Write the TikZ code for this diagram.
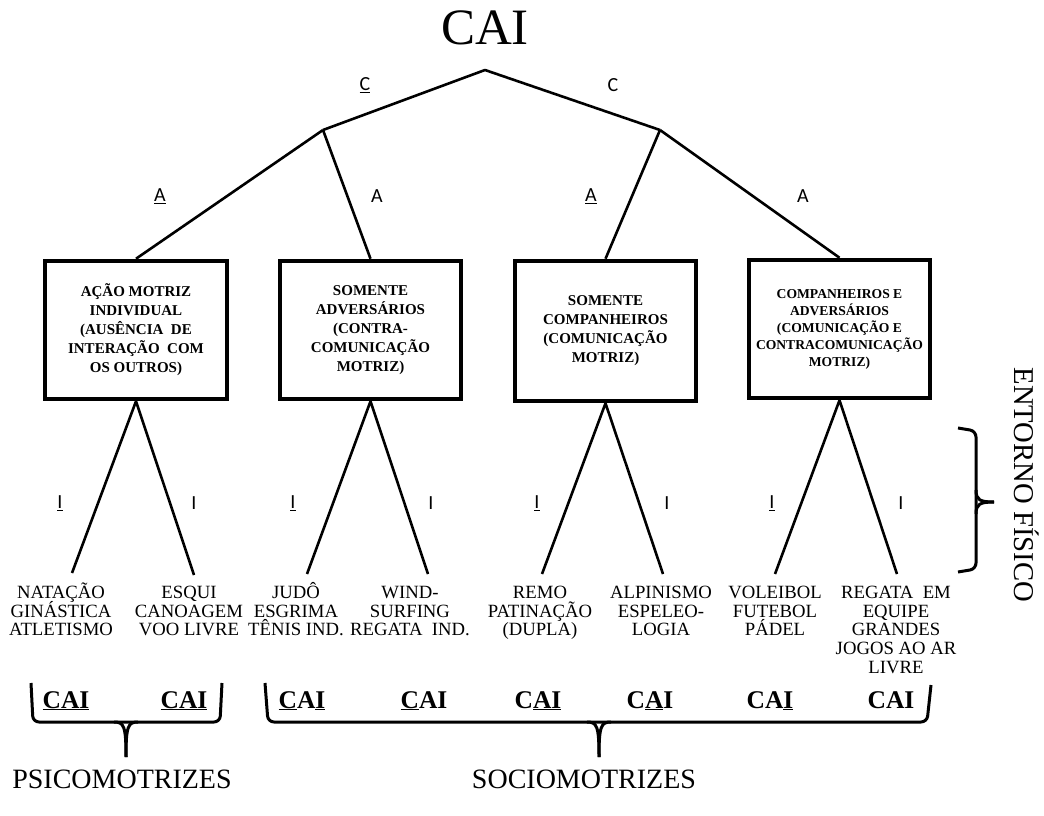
\documentclass[tikz,border=0pt]{standalone}
\usepackage{fontspec}
\setmainfont{Liberation Serif}
\newfontfamily\labfont{Carlito}
\newcommand{\fl}{\rule{0pt}{18pt}}
\newcommand{\tightls}{\lineskiplimit=-30pt\relax}
\begin{document}
\begin{tikzpicture}[x=1pt,y=-1pt,
  tree/.style={line width=2.6pt},
  boxnode/.style={draw, line width=4.5pt, align=center, inner sep=0pt,
     font=\bfseries\fontsize{15}{19}\selectfont\tightls},
  sport/.style={align=center, anchor=north, inner sep=0pt,
     font=\fontsize{18.7}{18.8}\selectfont\tightls},
  lab/.style={font=\labfont\fontsize{20}{24}\selectfont, inner sep=0pt},
  cai/.style={font=\bfseries\fontsize{25.5}{30}\selectfont, anchor=base, inner sep=0pt},
  brace/.style={line width=3pt, rounded corners=6pt},
  tipline/.style={line width=3pt},
  bigtext/.style={font=\fontsize{28}{32}\selectfont, inner sep=0pt}
]
\useasboundingbox (0,0) rectangle (1044,816);

% title
\node[font=\fontsize{51}{58}\selectfont, anchor=base, inner sep=0pt] (title) at (485,45) {CAI};

% tree junctions
\coordinate (apex) at (485,70);
\coordinate (L) at (323,130);
\coordinate (R) at (660,130);

% boxes
\node[boxnode, minimum width=182pt, minimum height=138pt] (b1) at (136,330)
  {AÇÃO MOTRIZ\\INDIVIDUAL\\(AUSÊNCIA\ \ DE\\INTERAÇÃO\ \ COM\\OS OUTROS)};
\node[boxnode, minimum width=181pt, minimum height=138pt] (b2) at (370.5,330)
  {SOMENTE\\ADVERSÁRIOS\\(CONTRA-\\COMUNICAÇÃO\\MOTRIZ)};
\node[boxnode, minimum width=181pt, minimum height=140pt] (b3) at (605.5,331)
  {SOMENTE\\COMPANHEIROS\\(COMUNICAÇÃO\\MOTRIZ)};
\node[boxnode, minimum width=181pt, minimum height=138pt,
      font=\bfseries\fontsize{13.6}{17}\selectfont\tightls] (b4) at (839.5,329)
  {COMPANHEIROS E\\ADVERSÁRIOS\\(COMUNICAÇÃO E\\CONTRACOMUNICAÇÃO\\MOTRIZ)};

% upper tree
\draw[tree, line join=round] (L) -- (apex) -- (R);
\draw[tree] (L) -- (b1.north);
\draw[tree] (L) -- (b2.north);
\draw[tree] (R) -- (b3.north);
\draw[tree] (R) -- (b4.north);

% leg ends
\coordinate (e1) at (72,573);  \coordinate (e2) at (194,575);
\coordinate (e3) at (307,574); \coordinate (e4) at (428,574);
\coordinate (e5) at (542,574); \coordinate (e6) at (663,574);
\coordinate (e7) at (775,574); \coordinate (e8) at (897,574);
\draw[tree] (e1) -- (b1.south) -- (e2);
\draw[tree] (e3) -- (b2.south) -- (e4);
\draw[tree] (e5) -- (b3.south) -- (e6);
\draw[tree] (e7) -- (b4.south) -- (e8);

% branch labels
\node[lab] (c1) at (365,85) {\underline{C}};
\node[lab] (c2) at (613,85) {C};
\node[lab] (a1) at (160,196) {\underline{A}};
\node[lab] (a2) at (377,196) {A};
\node[lab] (a3) at (591,196) {\underline{A}};
\node[lab] (a4) at (803,196) {A};
\node[lab] (i1) at (60,503) {\underline{I}};
\node[lab] (i2) at (194,503) {I};
\node[lab] (i3) at (293,503) {\underline{I}};
\node[lab] (i4) at (431,503) {I};
\node[lab] (i5) at (537,503) {\underline{I}};
\node[lab] (i6) at (667,503) {I};
\node[lab] (i7) at (772,503) {\underline{I}};
\node[lab] (i8) at (901,503) {I};

% sports
\node[sport] (s1) at (61,580) {\fl NATAÇÃO\\GINÁSTICA\\ATLETISMO};
\node[sport] (s2) at (189,580) {\fl ESQUI\\CANOAGEM\\VOO LIVRE};
\node[sport] (s3) at (296,580) {\fl JUDÔ\\ESGRIMA\\TÊNIS IND.};
\node[sport] (s4) at (410,580) {\fl WIND-\\SURFING\\REGATA\ \ IND.};
\node[sport] (s5) at (540,580) {\fl REMO\\PATINAÇÃO\\(DUPLA)};
\node[sport] (s6) at (661,580) {\fl ALPINISMO\\ESPELEO-\\LOGIA};
\node[sport] (s7) at (775,580) {\fl VOLEIBOL\\FUTEBOL\\PÁDEL};
\node[sport] (s8) at (896,580) {\fl REGATA\ \ EM\\EQUIPE\\GRANDES\\JOGOS AO AR\\LIVRE};

% CAI codes
\node[cai] (k1) at (66,708) {\underline{CAI}};
\node[cai] (k2) at (184,708) {\underline{CAI}};
\node[cai] (k3) at (302,708) {\underline{C}A\underline{I}};
\node[cai] (k4) at (424,708) {\underline{C}AI};
\node[cai] (k5) at (538,708) {C\underline{AI}};
\node[cai] (k6) at (650,708) {C\underline{A}I};
\node[cai] (k7) at (770,708) {CA\underline{I}};
\node[cai] (k8) at (891,708) {CAI};

% braces
\draw[brace] (31,683) -- (33,722) -- (220,722) -- (222,683);
\coordinate (pt) at (126,757);
\draw[tipline] (114,722) .. controls (124,722) and (126,726) .. (pt);
\draw[tipline] (138,722) .. controls (128,722) and (126,726) .. (pt);
\node[bigtext, anchor=base] (psico) at (122,788) {PSICOMOTRIZES};

\draw[brace] (265,683) -- (268,722) -- (927,722) -- (931,685);
\coordinate (st) at (599,757);
\draw[tipline] (587,722) .. controls (597,722) and (599,726) .. (st);
\draw[tipline] (611,722) .. controls (601,722) and (599,726) .. (st);
\node[bigtext, anchor=base] (socio) at (584,788) {SOCIOMOTRIZES};

\draw[brace] (958,428) -- (976,431) -- (976,569) -- (958,572);
\coordinate (et) at (994,502);
\draw[tipline] (976,490) .. controls (976,500) and (980,502) .. (et);
\draw[tipline] (976,514) .. controls (976,504) and (980,502) .. (et);
\node[bigtext, rotate=-90, font=\fontsize{28.7}{32}\selectfont] (ent) at (1027,485) {ENTORNO FÍSICO};
\end{tikzpicture}
\end{document}
